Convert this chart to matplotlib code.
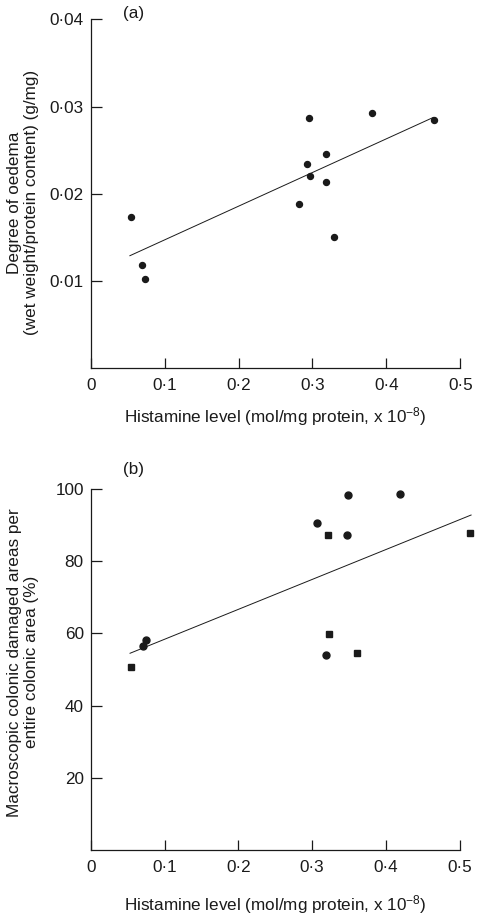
import matplotlib
matplotlib.use("Agg")
import matplotlib.pyplot as plt
from matplotlib.ticker import FuncFormatter

# panel (a): histamine vs oedema
hist_a = [0.055, 0.070, 0.074, 0.282, 0.293, 0.295, 0.297, 0.318, 0.318, 0.329, 0.381, 0.465]
oedema = [0.0173, 0.0118, 0.0102, 0.0188, 0.0234, 0.0287, 0.0220, 0.0245, 0.0213, 0.0151, 0.0292, 0.0284]
fit_a_x = [0.053, 0.4635]
fit_a_y = [0.0129, 0.02875]

# panel (b): histamine vs damaged area, two groups (circles / squares)
hist_b_circ = [0.0705, 0.075, 0.307, 0.348, 0.347, 0.419, 0.319]
damage_circ = [56.6, 58.2, 90.5, 98.3, 87.4, 98.6, 54.0]
hist_b_sq = [0.055, 0.321, 0.323, 0.361, 0.5145]
damage_sq = [50.6, 87.4, 59.7, 54.7, 87.7]
fit_b_x = [0.0533, 0.5154]
fit_b_y = [54.5, 92.8]

xticks = [0, 0.1, 0.2, 0.3, 0.4, 0.5]
yticks_a = [0.01, 0.02, 0.03, 0.04]
yticks_b = [20, 40, 60, 80, 100]

plt.rcParams["font.family"] = ["Liberation Sans", "DejaVu Sans"]
plt.rcParams["mathtext.fontset"] = "custom"
plt.rcParams["mathtext.rm"] = "Liberation Sans"
plt.rcParams["mathtext.it"] = "Liberation Sans"
INK = "#1a1a1a"
FS = 12.3


def dot(v, pos=None):
    if v == 0:
        return "0"
    s = ("%g" % v)
    return s.replace(".", "\u00b7")


def style(ax, yt):
    for s in ("top", "right"):
        ax.spines[s].set_visible(False)
    for s in ("left", "bottom"):
        ax.spines[s].set_linewidth(0.9)
        ax.spines[s].set_color(INK)
    ax.set_xticks(xticks)
    ax.set_yticks(yt)
    ax.xaxis.set_major_formatter(FuncFormatter(dot))
    ax.yaxis.set_major_formatter(FuncFormatter(dot))
    ax.tick_params(axis="x", direction="in", length=7, width=0.9, pad=7,
                   labelsize=FS, colors=INK)
    ax.tick_params(axis="y", direction="in", length=8, width=0.9, pad=5,
                   labelsize=FS, colors=INK)


xlab = "Histamine level (mol/mg protein, x 10$^{\u2212 8}$)"

fig = plt.figure(figsize=(4.83, 9.17), dpi=100)

ax1 = fig.add_axes([0.1878, 0.5984, 0.7652, 0.3806])
ax1.plot(hist_a, oedema, "o", ms=4.3, color=INK, clip_on=False)
ax1.plot(fit_a_x, fit_a_y, "-", lw=0.7, color=INK)
ax1.set_xlim(0, 0.5)
ax1.set_ylim(0, 0.04)
style(ax1, yticks_a)
ax1.set_xlabel(xlab, fontsize=FS, color=INK, labelpad=9)
ax1.set_ylabel("Degree of oedema\n(wet weight/protein content) (g/mg)",
               fontsize=FS, color=INK, linespacing=1.2)
ax1.yaxis.set_label_coords(-0.14, 0.474)
fig.text(134 / 483, 1 - 13.5 / 917, "(a)", fontsize=FS, color=INK,
         ha="center", va="center")

ax2 = fig.add_axes([0.1878, 0.0731, 0.7640, 0.3936])
ax2.plot(hist_b_circ, damage_circ, "o", ms=5, color=INK, clip_on=False)
ax2.plot(hist_b_sq, damage_sq, "s", ms=4, color=INK, clip_on=False)
ax2.plot(fit_b_x, fit_b_y, "-", lw=0.7, color=INK, clip_on=False)
ax2.set_xlim(0, 0.5)
ax2.set_ylim(0, 100)
style(ax2, yticks_b)
ax2.set_xlabel(xlab, fontsize=FS, color=INK, labelpad=13)
ax2.set_ylabel("Macroscopic colonic damaged areas per\nentire colonic area (%)",
               fontsize=FS, color=INK, linespacing=1.2)
ax2.yaxis.set_label_coords(-0.14, 0.52)
fig.text(133.7 / 483, 1 - 470 / 917, "(b)", fontsize=FS, color=INK,
         ha="center", va="center")

fig.savefig("out.png", dpi=100)
